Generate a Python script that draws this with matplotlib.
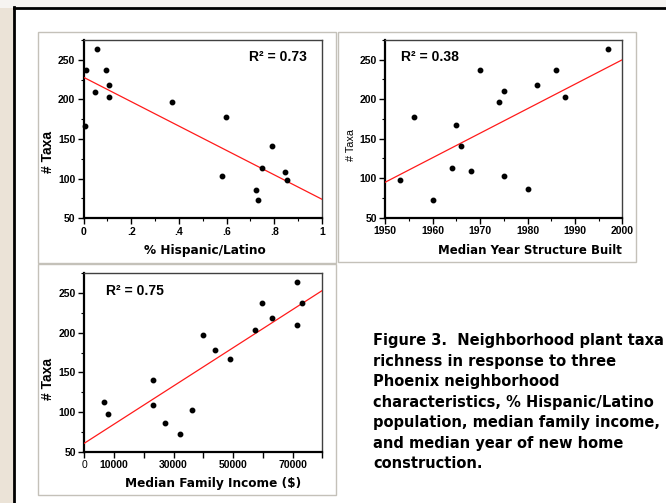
import matplotlib
matplotlib.use("Agg")
import matplotlib.pyplot as plt
from matplotlib.patches import Rectangle
from matplotlib.lines import Line2D
from matplotlib.ticker import MultipleLocator, FixedLocator, FixedFormatter

# ---------------- data ----------------
taxa = [264, 237, 237, 218, 210, 203, 197, 178, 167, 141, 113, 109, 103, 98, 86, 73]
hispanic = [0.056, 0.010, 0.096, 0.105, 0.050, 0.105, 0.371, 0.597, 0.008, 0.792,
            0.748, 0.845, 0.582, 0.855, 0.722, 0.731]
year_built = [1997, 1970, 1986, 1982, 1975, 1988, 1974, 1956, 1965, 1966,
              1964, 1968, 1975, 1953, 1980, 1960]
income = [71400, 59700, 73200, 63100, 71600, 57400, 40000, 44000, 49000, 23000,
          6600, 23000, 36100, 8100, 27000, 32000]

# regression lines as drawn (x ends, y ends)
fit_hisp_x = [0, 1]
fit_hisp_y = [228, 74]
fit_year_x = [1950, 2000]
fit_year_y = [95, 250]
fit_inc_x = [0, 80000]
fit_inc_y = [61, 253]

r2_labels = ["R² = 0.73", "R² = 0.38", "R² = 0.75"]
x_labels = ["% Hispanic/Latino", "Median Year Structure Built", "Median Family Income ($)"]
y_label = "# Taxa"
hisp_ticks = [0, 0.2, 0.4, 0.6, 0.8, 1.0]
hisp_ticklabels = ["0", ".2", ".4", ".6", ".8", "1"]
year_ticks = [1950, 1960, 1970, 1980, 1990, 2000]
year_ticklabels = ["1950", "1960", "1970", "1980", "1990", "2000"]
inc_ticks = [0, 10000, 20000, 30000, 40000, 50000, 60000, 70000, 80000]
inc_ticklabels = ["0", "10000", "", "30000", "", "50000", "", "70000", ""]
taxa_ticks = [50, 100, 150, 200, 250]

caption = ("Figure 3.  Neighborhood plant taxa\n"
           "richness in response to three\n"
           "Phoenix neighborhood\n"
           "characteristics, % Hispanic/Latino\n"
           "population, median family income,\n"
           "and median year of new home\n"
           "construction.")

# ---------------- figure ----------------
W, H = 666, 503
fig = plt.figure(figsize=(W / 100, H / 100), dpi=100, facecolor="white")


def fx(x):
    return x / W


def fy(y):
    return 1 - y / H


# page background / frame
fig.patches.append(Rectangle((0, 0), fx(14), 1, transform=fig.transFigure,
                             facecolor="#ebe3d7", edgecolor="none", zorder=0))
fig.patches.append(Rectangle((0, fy(8)), 1, 1 - fy(8), transform=fig.transFigure,
                             facecolor="#f6f4f1", edgecolor="none", zorder=0))
fig.lines.append(Line2D([fx(14.5), fx(14.5)], [0, fy(7)], transform=fig.transFigure,
                        color="black", lw=2.0, zorder=1))
fig.lines.append(Line2D([fx(13.5), 1], [fy(8), fy(8)], transform=fig.transFigure,
                        color="black", lw=2.0, zorder=1))

# panel frames
for (x0, y0, x1, y1) in [(38, 32, 335.5, 263), (338.5, 32, 635.5, 262), (38, 264, 335.5, 495)]:
    fig.patches.append(Rectangle((fx(x0), fy(y1)), fx(x1 - x0), fy(y0) - fy(y1),
                                 transform=fig.transFigure, facecolor="white",
                                 edgecolor="#c4c1b9", lw=1.0, zorder=1))


def make_axes(x0, y0, x1, y1):
    ax = fig.add_axes([fx(x0), fy(y1), fx(x1 - x0), fy(y0) - fy(y1)])
    ax.set_facecolor("white")
    ax.set_zorder(3)
    for s in ["left", "bottom"]:
        ax.spines[s].set_linewidth(1.6)
        ax.spines[s].set_color("black")
    for s in ["top", "right"]:
        ax.spines[s].set_linewidth(1.0)
        ax.spines[s].set_color("#404040")
    ax.tick_params(which="major", direction="out", length=4, width=1.0,
                   top=False, right=False, pad=2)
    ax.tick_params(which="minor", direction="out", length=2.5, width=0.8,
                   top=False, right=False)
    ax.set_ylim(50, 275)
    ax.yaxis.set_major_locator(FixedLocator(taxa_ticks))
    ax.yaxis.set_minor_locator(MultipleLocator(25))
    return ax


def style_ticks(ax):
    for lab in ax.get_xticklabels() + ax.get_yticklabels():
        lab.set_fontfamily("Liberation Sans")
        lab.set_fontweight("bold")
        lab.set_fontsize(7.5)


dot_kw = dict(marker="o", linestyle="none", color="black", markersize=3.2, zorder=4,
              clip_on=False)
line_kw = dict(color="#ff1a1a", lw=0.9, zorder=3)
r2_kw = dict(fontfamily="Liberation Sans", fontweight="bold", fontsize=10, va="center")

# ---- panel 1: % Hispanic ----
ax1 = make_axes(83.5, 40, 322, 218.3)
ax1.set_xlim(0, 1)
ax1.xaxis.set_major_locator(FixedLocator(hisp_ticks))
ax1.xaxis.set_major_formatter(FixedFormatter(hisp_ticklabels))
ax1.xaxis.set_minor_locator(MultipleLocator(0.1))
ax1.plot(fit_hisp_x, fit_hisp_y, **line_kw)
ax1.plot(hispanic, taxa, **dot_kw)
style_ticks(ax1)
ax1.text(0.935, 0.905, r2_labels[0], transform=ax1.transAxes, ha="right", **r2_kw)

# ---- panel 2: year built ----
ax2 = make_axes(385.3, 40, 622.3, 217.7)
ax2.set_xlim(1950, 2000)
ax2.xaxis.set_major_locator(FixedLocator(year_ticks))
ax2.xaxis.set_major_formatter(FixedFormatter(year_ticklabels))
ax2.xaxis.set_minor_locator(MultipleLocator(5))
ax2.plot(fit_year_x, fit_year_y, **line_kw)
ax2.plot(year_built, taxa, **dot_kw)
style_ticks(ax2)
ax2.text(0.065, 0.905, r2_labels[1], transform=ax2.transAxes, ha="left", **r2_kw)

# ---- panel 3: income ----
ax3 = make_axes(84.3, 273, 322.3, 452)
ax3.set_xlim(0, 80000)
ax3.xaxis.set_major_locator(FixedLocator(inc_ticks))
ax3.xaxis.set_major_formatter(FixedFormatter(inc_ticklabels))
ax3.plot(fit_inc_x, fit_inc_y, **line_kw)
ax3.plot(income, taxa, **dot_kw)
style_ticks(ax3)
ax3.get_xticklabels()[0].set_fontweight("normal")
ax3.text(0.09, 0.9, r2_labels[2], transform=ax3.transAxes, ha="left", **r2_kw)

# axis titles
xl_kw = dict(fontfamily="DejaVu Sans", fontweight="bold", fontsize=8.7,
             ha="center", va="center")
fig.text(fx(204.7), fy(250.5), x_labels[0], **xl_kw)
fig.text(fx(529.5), fy(250), x_labels[1], **dict(xl_kw, fontsize=8.5))
fig.text(fx(212.7), fy(483.5), x_labels[2], **xl_kw)

fig.text(fx(48), fy(152), y_label, rotation=90, ha="center", va="center",
         fontfamily="Liberation Sans", fontweight="bold", fontsize=10)
fig.text(fx(351), fy(145), y_label, rotation=90, ha="center", va="center",
         fontfamily="Liberation Sans", fontweight="normal", fontsize=7.8)
fig.text(fx(48), fy(379), y_label, rotation=90, ha="center", va="center",
         fontfamily="Liberation Sans", fontweight="bold", fontsize=10)

# caption
fig.text(fx(373), fy(333), caption, ha="left", va="top", fontfamily="DejaVu Sans",
         fontweight="bold", fontsize=10.5, linespacing=1.46)

fig.savefig("out.png", dpi=100, facecolor="white")
